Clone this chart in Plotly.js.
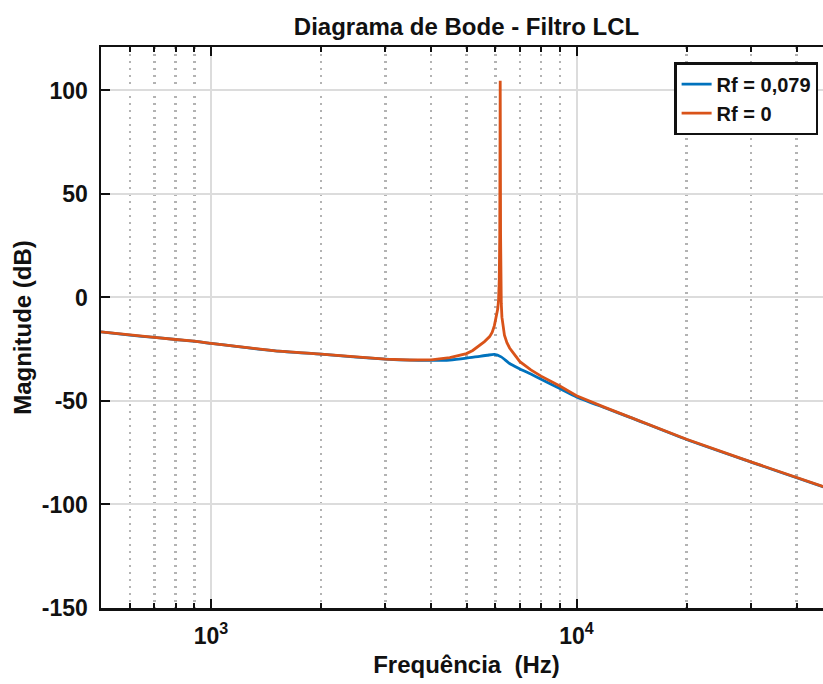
<!DOCTYPE html>
<html>
<head>
<meta charset="utf-8">
<script src="https://cdn.plot.ly/plotly-3.0.1.min.js"></script>
<style>
html,body{margin:0;padding:0;overflow:hidden;background:#fff;width:823px;height:684px;}
#chart{width:840px;height:684px;}
</style>
</head>
<body>
<div id="chart"></div>
<script>
// Data
const freqBlue = [500, 600, 700, 800, 900, 1000, 1500, 2000, 2500, 3000, 3500, 4000, 4500, 5000, 5430, 5700, 5960, 6220, 6560, 7000, 7500, 8000, 9000, 10000, 12000, 14000, 20000, 30000, 40000, 50000];
const magBlue  = [-16.6, -18.2, -19.3, -20.3, -21.1, -22.2, -25.8, -27.4, -28.8, -29.8, -30.3, -30.4, -30.2, -29.3, -28.4, -27.9, -27.5, -28.7, -31.9, -34.5, -37.0, -39.5, -44.0, -48.0, -53.4, -57.9, -68.6, -79.5, -87.1, -92.9];

const freqOrange = [500, 600, 700, 800, 900, 1000, 1500, 2000, 2500, 3000, 3500, 4000, 4500, 5000, 5200, 5430, 5600, 5785, 5880, 5960, 6030, 6088, 6120, 6145, 6165, 6183, 6198, 6210, 6225, 6250, 6300, 6350, 6450, 6560, 6680, 6850, 7000, 7500, 8000, 9000, 10000, 12000, 14000, 20000, 30000, 40000, 50000];
const magOrange  = [-16.6, -18.2, -19.3, -20.3, -21.1, -22.2, -25.8, -27.4, -28.8, -29.8, -30.2, -30.1, -29.1, -27.1, -25.6, -23.2, -21.3, -18.9, -16.8, -13.6, -9.8, -5.5, -1.0, 8.0, 30.0, 104.7, 30.0, 8.0, -3.0, -9.5, -14.5, -18.2, -21.8, -24.4, -26.3, -28.9, -31.0, -35.0, -38.0, -42.8, -47.5, -53.2, -57.8, -68.5, -79.4, -87.0, -92.8];

const seriesNames = ['Rf = 0,079', 'Rf = 0'];
const yTickVals = [-150, -100, -50, 0, 50, 100];
const xMajorVals = [1000, 10000];
const xMajorText = ['10<sup>3</sup>', '10<sup>4</sup>'];
const xMinorVals = [600, 700, 800, 900, 2000, 3000, 4000, 5000, 6000, 7000, 8000, 9000, 20000, 30000, 40000];

const FONT = 'Liberation Sans, Arial, Helvetica, sans-serif';
const TXT = '#111111';

const traces = [
  {x: freqBlue, y: magBlue, type: 'scatter', mode: 'lines', name: seriesNames[0],
   line: {color: '#0072BD', width: 2.8, shape: 'spline', smoothing: 0.6}},
  {x: freqOrange, y: magOrange, type: 'scatter', mode: 'lines', name: seriesNames[1],
   line: {color: '#D95319', width: 2.8}}
];

const layout = {
  width: 840, height: 684,
  margin: {l: 101, r: 8, t: 47, b: 76},
  paper_bgcolor: '#ffffff', plot_bgcolor: '#ffffff',
  font: {family: FONT, color: TXT},
  title: {text: 'Diagrama de Bode - Filtro LCL', x: 0.5, xref: 'paper', xanchor: 'center',
          y: 1 - 27/684, yref: 'container', yanchor: 'middle',
          font: {family: FONT, size: 24, weight: 'bold', color: TXT}, automargin: false},
  xaxis: {
    type: 'log', range: [Math.log10(500), Math.log10(50000)],
    tickmode: 'array', tickvals: xMajorVals, ticktext: xMajorText,
    ticks: 'inside', ticklen: 9, tickwidth: 2, tickcolor: TXT,
    showline: true, linecolor: TXT, linewidth: 2.5, mirror: 'allticks',
    showgrid: true, gridcolor: '#dcdcdc', gridwidth: 2,
    zeroline: false,
    tickfont: {family: FONT, size: 23, weight: 'bold', color: TXT},
    ticklabelstandoff: 6,
    minor: {tickmode: 'array', tickvals: xMinorVals, ticks: 'inside', ticklen: 5, tickwidth: 2, tickcolor: TXT,
            showgrid: true, gridcolor: '#b3b3b3', gridwidth: 2.4, griddash: '2.4px,4.6px'},
    title: {text: 'Frequência  (Hz)', standoff: 8, font: {family: FONT, size: 24, weight: 'bold', color: TXT}}
  },
  yaxis: {
    range: [-150, 121],
    tickmode: 'array', tickvals: yTickVals, ticktext: yTickVals.map(String),
    ticks: 'inside', ticklen: 9, tickwidth: 2, tickcolor: TXT,
    showline: true, linecolor: TXT, linewidth: 2.5, mirror: 'ticks',
    showgrid: true, gridcolor: '#dcdcdc', gridwidth: 2,
    zeroline: false,
    tickfont: {family: FONT, size: 23, weight: 'bold', color: TXT},
    ticklabelstandoff: 6,
    title: {text: 'Magnitude (dB)', standoff: 4, font: {family: FONT, size: 24, weight: 'bold', color: TXT}}
  },
  showlegend: true,
  legend: {
    x: 0.981, xanchor: 'right', y: 0.973, yanchor: 'top',
    bgcolor: '#ffffff', bordercolor: '#111111', borderwidth: 2.5,
    font: {family: FONT, size: 20, weight: 'bold', color: TXT},
    traceorder: 'normal', itemwidth: 30
  }
};

Plotly.newPlot('chart', traces, layout, {displayModeBar: false, staticPlot: true});
</script>
</body>
</html>
